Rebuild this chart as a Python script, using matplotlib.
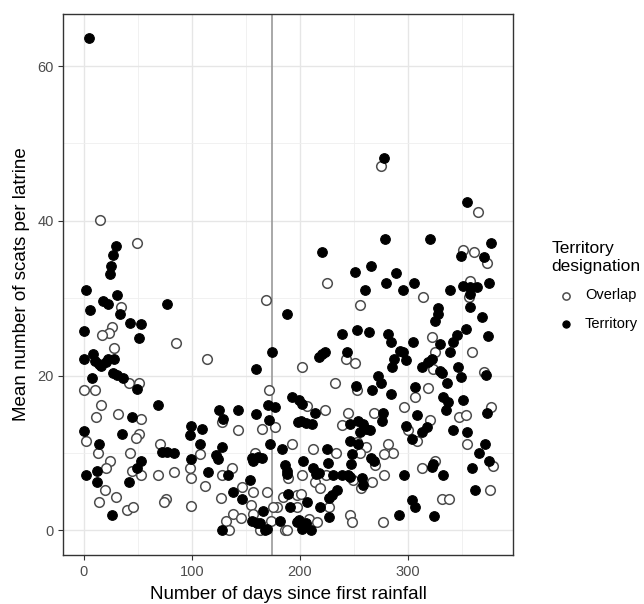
import matplotlib
matplotlib.use('Agg')
import matplotlib.pyplot as plt
from matplotlib.ticker import MultipleLocator

plt.rcParams['font.family'] = ['Liberation Sans', 'DejaVu Sans']

# values (days since first rainfall, mean scats per latrine)
territory_days = [
    4.6, 29.7, 26.9, 25.4, 24.5, 1.8, 30.9, 17.7, 22.3, 5.5, 33.6, 77, 43, 53.5, 0, 51.4,
    0, 8.6, 10.7, 16.2, 22.3, 28.1, 13.8, 20.8, 7.6, 27.5, 30.6, 36.7, 48.9, 68.8, 44.3,
    0.6, 35.8, 14.4, 72.8, 77.4, 83.5, 52.6, 12.2, 2.4, 12.2, 49.5, 41.9, 26.6,
    187.9, 174, 159.1, 192.5,
    170.9, 177.0, 125.5, 143.1, 159.4, 129.2, 198.7, 171.8, 99.8, 109.1, 98.3, 107.5,
    128.5, 172.4, 183.2, 122.4, 124.5, 155.4, 161.6, 164.7, 157.0, 98.9, 186.3, 187.9,
    188.5, 115.3, 133.8, 153.9, 137.8, 189.4, 146.2, 191.0, 165.6, 155.4, 160.1, 163.1,
    181.7, 127.6, 167.8, 169.9, 197.1,
    278.0, 279.2, 220.7, 265.8, 251.2, 288.7, 280.1, 260.3, 295.4, 239.6, 253, 264.6,
    281.7, 284.1,
    220.7, 223.7, 218.3, 243.6, 287.2, 295.4, 298.4, 285.3, 293.3, 272.5, 275.6, 251.8,
    267, 284.7, 199.3, 201.8, 214, 200.9, 205.4, 211.5, 246.6, 254.2, 258.8, 261.8,
    264.9, 255.8, 277.1, 276.2, 298.4, 246.6, 254.2, 225.3, 248.7, 247.5, 265.8, 268.9,
    203, 226.2, 212.2, 215.2, 217.6, 230.4, 239, 244.5, 246.6, 257.3, 258.8, 296.3,
    234.4, 229.8, 226.8, 207, 219.2, 292.3, 227.4, 199.3, 202.4, 210, 205.4,
    355.2, 320.6, 376.9, 349.4, 370.7, 306, 339.2, 375.6, 351.5, 357.7, 363.9, 357.7,
    357.7, 328.4, 328.4, 325.3, 368.5, 354, 345.4, 341.6, 374.7, 304.6, 329.9,
    339.2, 312.9, 319.1, 322.2, 329.9, 331.4, 346.3, 349.1, 372.5, 336.7, 306.7, 333,
    337.6, 335.5, 351.5, 373.2, 308.3, 317.5, 312.9, 303.6, 341.6, 354.6, 371.6, 366.4,
    375.6, 359.3, 322.2, 323.7, 332.4, 362.3, 303.6, 306.7, 324.3,
]
territory_scats = [
    63.6, 36.7, 35.6, 34.1, 33.1, 31.0, 30.4, 29.7, 29.2, 28.5, 28.0, 29.2, 26.8, 26.7, 25.8, 24.8,
    22.1, 22.8, 21.9, 21.2, 22.1, 22.1, 21.5, 21.7, 19.7, 20.3, 20.1, 19.7, 18.3, 16.2, 14.7,
    12.8, 12.4, 11.1, 10.1, 10.1, 10.0, 9.0, 7.6, 7.1, 6.2, 8.0, 6.2, 2.0,
    28.0, 23.0, 20.9, 17.2,
    16.2, 15.9, 15.6, 15.6, 15.0, 14.4, 14.0, 14.2, 13.5, 13.1, 12.3, 11.1,
    10.8, 11.1, 10.5, 9.7, 9.2, 9.3, 9.5, 9.3, 9.0, 9.2, 8.4, 7.7,
    7.3, 7.5, 7.1, 6.5, 5.0, 4.7, 4.1, 3.0, 2.5, 1.2, 1.0, 0.9,
    1.2, 0.0, 0.0, 0.2, 1.1,
    48.1, 37.6, 36.0, 34.1, 33.4, 33.2, 32.0, 31.0, 31.0, 25.4, 25.9, 25.6,
    25.4, 24.3,
    22.8, 23.1, 22.4, 23.1, 22.1, 23.0, 22.0, 21.1, 23.2, 19.9, 19.1, 18.7,
    18.1, 17.6, 16.8, 16.3, 15.1, 14.1, 13.9, 13.8, 13.8, 14.1, 13.8, 13.1,
    12.9, 12.7, 15.1, 14.1, 13.5, 11.5, 11.2, 10.5, 9.8, 8.6, 9.3, 8.9,
    9.0, 8.7, 8.0, 7.3, 7.4, 7.2, 7.2, 7.2, 6.9, 6.7, 5.8, 7.2,
    5.2, 4.6, 4.2, 3.7, 3.0, 2.0, 1.7, 1.3, 0.2, 0.0, 0.9,
    42.4, 37.6, 37.1, 35.5, 35.3, 32.0, 31.0, 32.0, 31.6, 31.4, 31.5, 30.5,
    28.8, 28.7, 27.9, 27.0, 27.6, 26.0, 25.3, 24.3, 25.1, 24.4, 24.1,
    23.0, 21.1, 21.7, 22.1, 20.6, 20.3, 21.1, 19.8, 20.1, 19.1, 18.5, 17.2,
    16.6, 15.5, 16.9, 15.1, 14.9, 13.3, 12.7, 11.8, 13.0, 12.7, 11.2, 10.0,
    9.0, 8.0, 8.2, 8.6, 7.1, 5.2, 3.9, 3.0, 1.9,
]

overlap_days = [
    14.7, 49.5, 34.3, 26.3, 23.5, 16.8, 85, 28, 42.2, 51.4, 0.6, 10.7, 16.2, 11.3, 32,
    52.9, 2.1, 51.4, 48.3, 13.1, 42.8, 70.3, 24.5, 20.8, 44.3, 53.5, 68.8, 83.5, 19.9,
    29.7, 13.8, 76.5, 74.3, 39.8, 45.9,
    168.7, 113.7, 171.8,
    127.6, 143.1, 164.7, 177.0, 192.5, 107.5, 158.5, 98.3, 99.8, 136.9, 127.6, 189.4,
    112.2, 146.2, 157.0, 169.9, 184.8, 127.0, 99.8, 154.5, 178.6, 175.5, 156.3, 137.8,
    145.2, 132.2, 173.0, 134.7, 163.1, 186.3, 187.9, 197.1,
    275.6, 225.3, 256,
    242.6, 251.2, 201.8, 232.3, 252.7, 207, 223.7, 245, 239, 268.9, 297, 300, 252.7,
    261, 281.7, 286.2, 278, 212.2, 233.5, 255.8, 270.1, 202.4, 224.4, 249.7, 267, 278,
    214.6, 219.2, 256.4, 200.9, 227.4, 197.8, 246.6, 248.1, 277.1, 208.5, 216.1,
    364.8, 351.5, 361.7, 373.8, 357.7, 357.1, 313.8, 322.2,
    325.3, 359.3, 323.7, 370.7, 319.1, 306.7, 376.9, 347.8, 354, 320.6, 308.3, 354.6,
    379.3, 325.3, 312.9, 376.2, 331.4, 338.6,
]
overlap_scats = [
    40.1, 37.1, 28.9, 26.3, 25.5, 25.2, 24.2, 23.5, 19.1, 19.1, 18.1, 18.1, 16.2, 14.7, 15.0,
    14.4, 11.5, 12.4, 11.9, 10.0, 10.0, 11.1, 9.0, 8.0, 7.7, 7.1, 7.2, 7.5, 5.2,
    4.3, 3.7, 4.1, 3.7, 2.6, 3.0,
    29.8, 22.1, 18.1,
    14.0, 13.0, 13.1, 13.3, 11.1, 9.8, 10.0, 8.0, 6.7, 8.0, 7.1, 6.7,
    5.7, 5.6, 5.0, 5.0, 4.3, 4.2, 3.1, 3.3, 3.0, 3.0, 2.1, 2.1,
    1.6, 1.2, 1.2, 0.0, 0.0, 0.0, 0.0, 4.5,
    47.1, 32.0, 29.1,
    22.1, 21.6, 21.1, 19.1, 18.1, 16.0, 15.5, 15.1, 13.6, 15.1, 15.9, 12.9, 11.4,
    10.8, 11.2, 10.0, 9.8, 10.5, 10.0, 10.0, 8.5, 7.2, 7.1, 6.5, 6.2, 7.2,
    6.2, 5.4, 5.4, 4.7, 3.0, 3.0, 2.0, 1.1, 1.1, 1.5, 1.1,
    41.1, 36.2, 36.0, 34.6, 32.2, 30.1, 30.2, 25.0,
    23.0, 23.1, 20.9, 20.5, 18.4, 17.2, 15.9, 14.7, 14.9, 14.2, 11.6, 11.1,
    8.3, 9.0, 8.0, 5.2, 4.1, 4.1,
]

rain_day = 174

fig = plt.figure(figsize=(6.44, 6.04), dpi=100)
ax = fig.add_axes([0.0983, 0.0811, 0.6983, 0.8965])

ax.scatter(overlap_days, overlap_scats, s=48, facecolor='white', edgecolor='#4d4d4d',
           linewidth=1.1, label='Overlap', zorder=3)
ax.scatter(territory_days, territory_scats, s=48, facecolor='black', edgecolor='black',
           linewidth=0.8, label='Territory', zorder=3)
ax.axvline(rain_day, color='#9a9a9a', linewidth=1.2, zorder=2)

ax.set_xlim(-18.9, 397.5)
ax.set_ylim(-3.2, 66.8)
ax.xaxis.set_major_locator(MultipleLocator(100))
ax.xaxis.set_minor_locator(MultipleLocator(50))
ax.yaxis.set_major_locator(MultipleLocator(20))
ax.yaxis.set_minor_locator(MultipleLocator(10))
ax.grid(which='major', color='#e6e6e6', linewidth=1.0, zorder=0)
ax.grid(which='minor', color='#efefef', linewidth=0.6, zorder=0)
ax.set_axisbelow(True)
ax.tick_params(which='minor', length=0)
ax.tick_params(which='major', length=3.5, color='#333333', labelcolor='#4d4d4d', labelsize=10.5)
for sp in ax.spines.values():
    sp.set_color('#333333')
    sp.set_linewidth(1.0)

ax.set_xlabel('Number of days since first rainfall', fontsize=13.5, labelpad=5)
ax.set_ylabel('Mean number of scats per latrine', fontsize=13.5, labelpad=5)

leg = ax.legend(loc='upper left', bbox_to_anchor=(0.836, 0.622), bbox_transform=fig.transFigure,
                frameon=False, title='Territory\ndesignation', fontsize=10.5,
                title_fontsize=12.5, alignment='left', handletextpad=0.3, labelspacing=1.0,
                markerscale=0.75)

fig.savefig('out.png', dpi=100)
